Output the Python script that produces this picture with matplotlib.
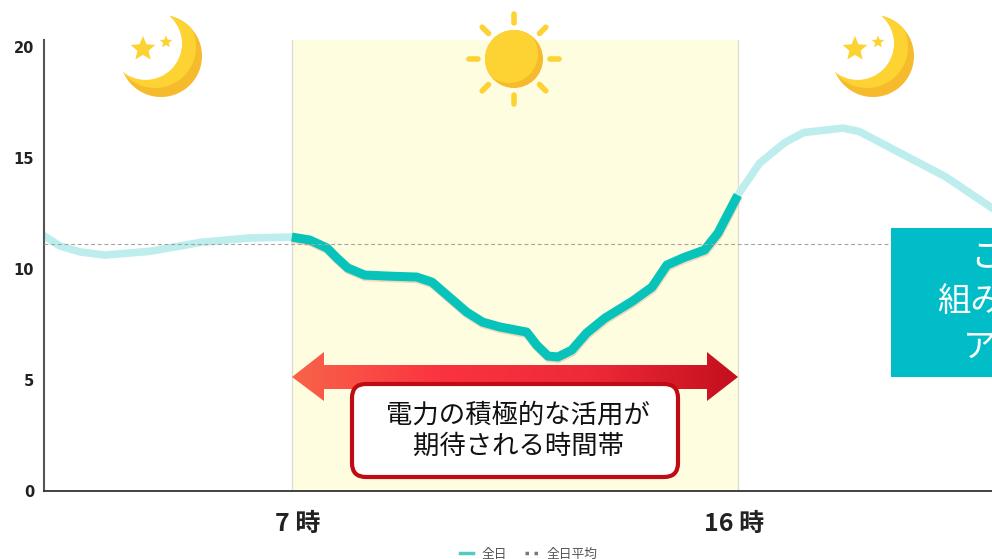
import numpy as np
import matplotlib
matplotlib.use('Agg')
import matplotlib.pyplot as plt
import matplotlib.patheffects as pe
from matplotlib.lines import Line2D
from matplotlib.patches import Circle, FancyBboxPatch, Polygon, Rectangle
from matplotlib.transforms import ScaledTranslation

plt.rcParams['font.family'] = ['Noto Sans CJK JP', 'DejaVu Sans']

# values
hours = [2.0, 2.32, 2.73, 3.23, 4.14, 5.15, 6.15, 7.0, 7.36, 7.71, 7.91, 8.13, 8.47, 8.98,
         9.52, 9.83, 10.13, 10.53, 10.85, 11.2, 11.74, 11.94, 12.17, 12.37, 12.65, 12.95,
         13.32, 13.88, 14.27, 14.57, 14.89, 15.33, 15.6, 16.0, 16.44, 16.95, 17.33, 18.12,
         18.45, 20.2, 21.13]
usage = [11.5, 11.04, 10.77, 10.63, 10.8, 11.2, 11.4, 11.44, 11.31, 10.95, 10.5, 10.05, 9.73, 9.68,
         9.64, 9.41, 8.83, 8.06, 7.61, 7.39, 7.16, 6.58, 6.08, 6.04, 6.35, 7.12,
         7.79, 8.56, 9.19, 10.18, 10.5, 10.86, 11.62, 13.33, 14.77, 15.7, 16.15, 16.35,
         16.2, 14.15, 12.75]
average = 11.15
day_start = 7
day_end = 16
y_ticks = [0, 5, 10, 15, 20]
x_tick_labels = ['7 時', '16 時']
box_lines = '電力の積極的な活用が\n期待される時間帯'

LIGHT = '#bdeeed'
TEAL = '#08c3ba'
SUN = '#fdd233'
SHADE = '#f6bb2d'

fig = plt.figure(figsize=(9.92, 5.59), dpi=100)
ax = fig.add_axes([44 / 992, 68 / 559, 948 / 992, 451 / 559])
ax.set_xlim(2, 21.13)
ax.set_ylim(0, 20.32)

# daytime band
ax.axvspan(day_start, day_end, facecolor='#fefde0', edgecolor='none', zorder=1)
for h in [day_start, day_end]:
    ax.axvline(h, color='#dcdcd2', lw=0.9, zorder=1)

# main curve
ax.plot(hours, usage, color=LIGHT, lw=5.5, solid_joinstyle='round', zorder=2)
day_hours = [h for h in hours if day_start <= h <= day_end]
day_usage = [u for h, u in zip(hours, usage) if day_start <= h <= day_end]
ax.plot(day_hours, day_usage, color=TEAL, lw=6.5, solid_joinstyle='round', solid_capstyle='butt', zorder=3,
        path_effects=[pe.SimpleLineShadow(offset=(0.4, -1.2), shadow_color='#d8a58c', alpha=0.4), pe.Normal()])
ax.axhline(average, color='#a5a5a0', lw=0.8, ls=(0, (3.5, 2.5)), zorder=4)

for s in ['top', 'right']:
    ax.spines[s].set_visible(False)
ax.spines['left'].set_color('#555555')
ax.spines['left'].set_linewidth(1.5)
ax.spines['bottom'].set_color('#333333')
ax.spines['bottom'].set_linewidth(1.3)

ax.set_yticks(y_ticks)
ax.set_yticklabels([str(v) for v in y_ticks], fontsize=10.5, fontweight='bold',
                   color='#222222', family='DejaVu Sans')
ax.tick_params(axis='y', length=0, pad=7)
ax.set_xticks([day_start, day_end])
ax.set_xticklabels(x_tick_labels, fontsize=18, fontweight='bold', color='#222222')
ax.tick_params(axis='x', length=0, pad=15)
for lab, dx in zip(ax.get_xticklabels(), [6, -4]):
    lab.set_transform(lab.get_transform() + ScaledTranslation(dx / 100, 0, fig.dpi_scale_trans))

handles = [Line2D([], [], color='#58c8c4', lw=2.5),
           Line2D([], [], color='#777777', lw=2.5, ls=(0, (1, 1.6)))]
ax.legend(handles, ['全日', '全日平均'], ncol=2, frameon=False, fontsize=9.2,
          labelcolor='#555555', loc='center', bbox_to_anchor=(0.5116, -0.14),
          handlelength=1.0, handletextpad=0.7, columnspacing=1.4)

# decorations, in picture pixels
deco = fig.add_axes([0, 0, 1, 1])
deco.set_xlim(0, 992)
deco.set_ylim(559, 0)
deco.axis('off')
deco.patch.set_alpha(0)


def star(cx, cy, r):
    ang = np.deg2rad(-90 + 36 * np.arange(10))
    rad = np.where(np.arange(10) % 2 == 0, r, r * 0.45)
    deco.add_patch(Polygon(np.c_[cx + rad * np.cos(ang), cy + rad * np.sin(ang)],
                           facecolor=SUN, edgecolor='none', zorder=6))


def shaded_disc(cx, cy, r, dx, dy):
    outer = Circle((cx, cy), r, facecolor=SHADE, edgecolor='none', zorder=5)
    deco.add_patch(outer)
    inner = Circle((cx + dx, cy + dy), r, facecolor=SUN, edgecolor='none', zorder=5)
    deco.add_patch(inner)
    inner.set_clip_path(outer)


def moon(cx, cy):
    shaded_disc(cx, cy, 41, -6, -9)
    deco.add_patch(Circle((cx - 15.4, cy - 12.5), 36.4, facecolor='white', edgecolor='none', zorder=5))
    star(cx - 18, cy - 7, 13)
    star(cx + 5, cy - 14, 6.5)


moon(161, 56)
moon(873, 56)

# sun
for a in np.deg2rad(np.arange(0, 360, 45)):
    deco.plot([514 + 36 * np.cos(a), 514 + 45 * np.cos(a)],
              [59 + 36 * np.sin(a), 59 + 45 * np.sin(a)],
              color=SUN, lw=4, solid_capstyle='round', zorder=5)
shaded_disc(514, 59, 29, -5, -5)

# double arrow with gradient
arrow = Polygon([(292, 377), (324, 352), (324, 365), (707, 365), (707, 352), (738, 377),
                 (707, 401), (707, 389), (324, 389), (324, 401)],
                facecolor='none', edgecolor='none', transform=deco.transData, zorder=6)
deco.add_patch(arrow)
grad = matplotlib.colors.LinearSegmentedColormap.from_list(
    'arrow', ['#f8644a', '#fb3340', '#ee2a38', '#c40f1e'])
im = deco.imshow(np.linspace(0, 1, 256).reshape(1, -1), cmap=grad, extent=(292, 738, 401, 352),
                 aspect='auto', zorder=6)
im.set_clip_path(arrow)
deco.set_xlim(0, 992)
deco.set_ylim(559, 0)

# label box
deco.add_patch(FancyBboxPatch((352, 384), 326, 93, boxstyle='round,pad=0,rounding_size=14',
                              facecolor='white', edgecolor='#c00a14', linewidth=3, zorder=7))
deco.text(518, 431, box_lines, ha='center', va='center', fontsize=19, color='#111111',
          linespacing=1.18, zorder=8)

# teal panel, runs off the right edge as in the source
deco.add_patch(Rectangle((891, 228), 110, 149, facecolor='#00bdc8', edgecolor='none', zorder=7))
for txt, x, y in [('こ', 970, 258), ('組み', 937, 302), ('ア', 963, 347)]:
    deco.text(x, y, txt, color='white', fontsize=24, ha='left', va='center', zorder=8)

fig.savefig('out.png', dpi=100)
